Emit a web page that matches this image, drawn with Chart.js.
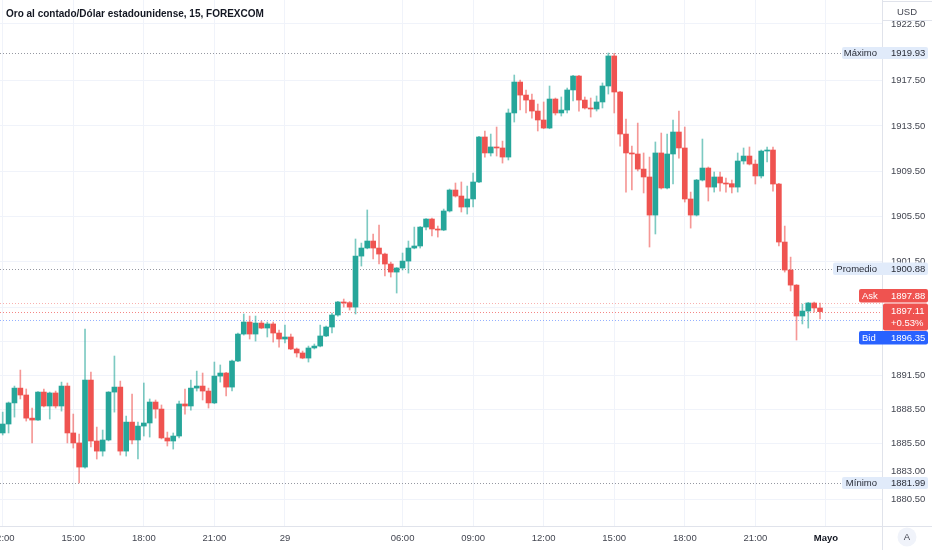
<!DOCTYPE html>
<html>
<head>
<meta charset="utf-8">
<script src="https://cdn.jsdelivr.net/npm/chart.js@4"></script>
<style>
html,body{margin:0;padding:0;background:#fff;}
#wrap{width:932px;height:550px;position:relative;}
</style>
</head>
<body>
<div id="wrap"><canvas id="chart" width="932" height="550"></canvas></div>
<script>
'use strict';
// XAU/USD, velas de 15 minutos
var opens = [
  1886.40,1887.19,1889.05,1890.36,1889.75,1887.71,1887.54,1890.01,1888.78,1889.93,
  1888.78,1890.54,1886.40,1885.52,1883.39,1891.07,1885.69,1884.80,1885.78,1890.01,
  1890.45,1884.80,1887.36,1885.78,1887.01,1887.28,1889.13,1888.51,1885.96,1885.69,
  1886.13,1888.96,1888.78,1890.36,1890.54,1890.10,1889.05,1891.42,1891.69,1890.45,
  1892.75,1895.13,1896.19,1895.13,1896.10,1895.66,1896.02,1895.22,1894.69,1894.87,
  1893.81,1893.46,1893.01,1893.90,1894.07,1894.96,1895.75,1896.81,1897.96,1897.90,
  1897.51,1902.01,1902.72,1903.34,1902.72,1902.19,1901.31,1900.60,1900.96,1901.57,
  1902.72,1902.90,1904.57,1905.28,1904.40,1904.31,1905.99,1907.84,1907.31,1906.34,
  1907.05,1908.55,1912.52,1911.11,1911.64,1911.55,1910.75,1914.64,1917.37,1916.22,
  1915.78,1914.81,1914.02,1913.31,1915.87,1914.64,1914.90,1916.67,1917.90,1915.78,
  1915.08,1914.99,1915.61,1917.02,1919.67,1916.49,1912.78,1911.11,1911.02,1909.69,
  1908.99,1905.63,1911.11,1908.02,1911.02,1912.96,1911.55,1907.05,1905.63,1908.72,
  1909.78,1908.10,1908.99,1908.46,1908.40,1908.10,1910.40,1910.84,1910.13,1909.08,
  1911.28,1911.37,1908.37,1903.25,1900.78,1899.45,1896.72,1897.16,1897.87,1897.43
];
var highs = [
  1888.24,1889.13,1890.54,1891.95,1890.28,1888.60,1890.05,1890.28,1890.01,1890.10,
  1890.89,1890.81,1888.07,1886.31,1895.57,1891.78,1886.92,1886.66,1890.05,1893.19,
  1890.98,1887.89,1889.84,1887.36,1890.81,1889.40,1889.31,1888.87,1886.48,1886.40,
  1889.22,1890.28,1891.07,1891.86,1891.69,1890.36,1892.66,1892.40,1891.75,1892.84,
  1895.22,1896.90,1896.72,1896.72,1896.28,1896.19,1896.19,1895.48,1895.92,1895.13,
  1893.90,1893.63,1894.07,1894.25,1895.92,1895.84,1896.98,1898.02,1898.22,1898.00,
  1903.52,1903.16,1906.08,1903.96,1904.75,1902.28,1901.48,1901.00,1902.28,1903.34,
  1904.57,1904.62,1905.33,1905.37,1904.66,1906.16,1907.93,1908.46,1908.55,1908.19,
  1909.34,1912.58,1913.05,1912.78,1913.40,1912.16,1914.99,1917.99,1917.55,1916.67,
  1916.31,1915.43,1915.61,1917.02,1915.96,1916.05,1916.84,1917.96,1917.96,1916.05,
  1915.96,1916.14,1917.29,1919.93,1919.90,1916.55,1914.11,1911.72,1913.75,1911.11,
  1910.75,1912.08,1912.87,1912.78,1914.02,1914.81,1913.40,1907.66,1908.78,1912.34,
  1909.87,1909.43,1909.43,1908.90,1908.72,1911.11,1911.55,1911.64,1910.49,1911.37,
  1911.64,1911.64,1908.42,1904.66,1901.92,1899.50,1897.78,1897.92,1897.96,1897.87
];
var lows = [
  1886.22,1886.40,1887.80,1889.40,1887.45,1885.52,1887.50,1888.69,1887.63,1888.60,
  1888.33,1885.52,1885.07,1881.99,1883.30,1885.16,1884.10,1884.36,1885.70,1888.24,
  1884.45,1884.36,1885.43,1884.10,1886.13,1886.04,1887.71,1885.87,1885.25,1884.98,
  1885.96,1888.07,1888.42,1890.10,1889.31,1888.60,1888.98,1890.89,1889.66,1890.10,
  1892.70,1895.04,1894.69,1894.51,1895.60,1894.87,1894.42,1893.98,1894.34,1893.75,
  1893.10,1892.95,1892.66,1893.81,1894.00,1894.90,1895.22,1896.70,1897.51,1897.25,
  1896.90,1901.13,1902.65,1901.75,1901.31,1900.25,1900.16,1898.75,1900.78,1900.51,
  1902.65,1902.72,1904.31,1903.78,1903.69,1904.25,1905.90,1907.22,1905.90,1905.72,
  1906.34,1908.50,1910.75,1910.84,1910.84,1910.22,1910.49,1913.84,1914.90,1914.64,
  1914.19,1913.05,1913.25,1913.25,1914.46,1914.37,1914.64,1915.70,1914.81,1914.99,
  1914.28,1914.81,1915.08,1916.31,1914.64,1911.72,1907.66,1907.84,1909.52,1907.58,
  1902.81,1903.96,1907.93,1907.93,1908.37,1910.66,1906.78,1904.48,1905.55,1908.64,
  1906.87,1907.66,1907.75,1907.66,1907.58,1907.66,1910.13,1910.05,1908.37,1908.90,
  1910.31,1907.75,1902.90,1900.60,1898.93,1894.60,1896.02,1895.66,1897.07,1896.46
];
var closes = [
  1887.19,1889.05,1890.36,1889.75,1887.71,1887.54,1890.01,1888.78,1889.93,1888.78,
  1890.54,1886.40,1885.52,1883.39,1891.07,1885.69,1884.80,1885.78,1890.01,1890.45,
  1884.80,1887.36,1885.78,1887.01,1887.28,1889.13,1888.51,1885.96,1885.69,1886.13,
  1888.96,1888.78,1890.36,1890.54,1890.10,1889.05,1891.42,1891.69,1890.45,1892.75,
  1895.13,1896.19,1895.13,1896.10,1895.66,1896.02,1895.22,1894.69,1894.87,1893.81,
  1893.46,1893.01,1893.90,1894.07,1894.96,1895.75,1896.81,1897.96,1897.87,1897.51,
  1902.01,1902.72,1903.34,1902.72,1902.19,1901.31,1900.60,1900.96,1901.57,1902.72,
  1902.90,1904.57,1905.28,1904.40,1904.31,1905.99,1907.84,1907.31,1906.34,1907.05,
  1908.55,1912.52,1911.11,1911.64,1911.55,1910.75,1914.64,1917.37,1916.22,1915.78,
  1914.81,1914.02,1913.31,1915.87,1914.64,1914.90,1916.67,1917.90,1915.78,1915.08,
  1914.99,1915.61,1917.02,1919.67,1916.49,1912.78,1911.11,1911.02,1909.69,1908.99,
  1905.63,1911.11,1908.02,1911.02,1912.96,1911.55,1907.05,1905.63,1908.72,1909.78,
  1908.10,1908.99,1908.46,1908.37,1908.10,1910.40,1910.84,1910.13,1909.08,1911.28,
  1911.37,1908.37,1903.25,1900.78,1899.45,1896.72,1897.16,1897.87,1897.43,1897.11
];

// escala de tiempo: índice de vela y texto
var timeIdx = [0, 12, 24, 36, 48, 68, 80, 92, 104, 116, 128, 140];
var timeLabels = ['12:00', '15:00', '18:00', '21:00', '29', '06:00', '09:00', '12:00', '15:00', '18:00', '21:00', 'Mayo'];
var boldLabels = ['Mayo'];
var yTicks = [1922.5, 1917.5, 1913.5, 1909.5, 1905.5, 1901.5, 1897.5, 1894.5, 1891.5, 1888.5, 1885.5, 1883.0, 1880.5];

var maxPrice = 1919.93, avgPrice = 1900.88, minPrice = 1881.99;
var askPrice = 1897.88, lastPrice = 1897.11, bidPrice = 1896.35;
var changePct = '+0.53%';
var title = 'Oro al contado/Dólar estadounidense, 15, FOREXCOM';

var UP = '#26a69a', DOWN = '#ef5350';
var UP_WICK = 'rgba(38,166,154,0.6)', DOWN_WICK = 'rgba(239,83,80,0.6)';
var FONT = '"Liberation Sans", Arial, sans-serif';
var AXIS_TEXT = '#434651';

var bodies = [], wicks = [], bodyColors = [], wickColors = [];
for (var i = 0; i < opens.length; i++) {
  bodies.push({x: i, y: [opens[i], closes[i]]});
  wicks.push({x: i, y: [lows[i], highs[i]]});
  var up = closes[i] >= opens[i];
  bodyColors.push(up ? UP : DOWN);
  wickColors.push(up ? UP_WICK : DOWN_WICK);
}

function dotted(ctx, y, x0, x1, color) {
  ctx.save();
  ctx.strokeStyle = color;
  ctx.lineWidth = 1;
  ctx.setLineDash([1, 2]);
  ctx.beginPath();
  ctx.moveTo(x0, Math.round(y) + 0.5);
  ctx.lineTo(x1, Math.round(y) + 0.5);
  ctx.stroke();
  ctx.restore();
}

function box(ctx, x, y, w, h, fill) {
  ctx.fillStyle = fill;
  ctx.beginPath();
  if (ctx.roundRect) ctx.roundRect(x, y, w, h, 2); else ctx.rect(x, y, w, h);
  ctx.fill();
}

function text(ctx, s, x, y, color, align, bold) {
  ctx.font = (bold ? 'bold ' : '') + '9.5px ' + FONT;
  ctx.fillStyle = color;
  ctx.textAlign = align || 'left';
  ctx.textBaseline = 'middle';
  ctx.fillText(s, x, y);
}

function noPadding(s) {
  s.paddingLeft = s.paddingRight = s.paddingTop = s.paddingBottom = 0;
}

var overlay = {
  id: 'overlay',
  beforeDatasetsDraw: function(chart) {
    var ctx = chart.ctx, y = chart.scales.y, a = chart.chartArea;
    dotted(ctx, y.getPixelForValue(maxPrice), a.left, 842, '#9598a1');
    dotted(ctx, y.getPixelForValue(avgPrice), a.left, 833, '#9598a1');
    dotted(ctx, y.getPixelForValue(minPrice), a.left, 842, '#9598a1');
    dotted(ctx, y.getPixelForValue(askPrice), a.left, a.right, 'rgba(239,83,80,0.45)');
    dotted(ctx, y.getPixelForValue(lastPrice), a.left, a.right, 'rgba(239,83,80,0.7)');
    dotted(ctx, y.getPixelForValue(bidPrice), a.left, a.right, 'rgba(41,98,255,0.5)');
  },
  afterDraw: function(chart) {
    var ctx = chart.ctx, ys = chart.scales.y, xs = chart.scales.x, a = chart.chartArea;
    var W = chart.width, H = chart.height;
    var lblFill = '#e1ebfa', lblText = '#2a2e39';
    ctx.save();

    // bordes de los ejes
    ctx.strokeStyle = '#e0e3eb';
    ctx.lineWidth = 1;
    ctx.beginPath();
    ctx.moveTo(a.right + 0.5, 0); ctx.lineTo(a.right + 0.5, H);
    ctx.moveTo(0, a.bottom + 0.5); ctx.lineTo(W, a.bottom + 0.5);
    ctx.stroke();

    // máximo / promedio / mínimo
    var yMax = ys.getPixelForValue(maxPrice);
    box(ctx, 842, yMax - 6, 86, 12, lblFill);
    text(ctx, 'Máximo', 877, yMax, lblText, 'right');
    text(ctx, maxPrice.toFixed(2), 891, yMax, lblText);
    var yAvg = ys.getPixelForValue(avgPrice);
    box(ctx, 833, yAvg - 6.5, 95, 12.5, lblFill);
    text(ctx, 'Promedio', 877, yAvg, lblText, 'right');
    text(ctx, avgPrice.toFixed(2), 891, yAvg, lblText);
    var yMin = ys.getPixelForValue(minPrice);
    box(ctx, 842, yMin - 6, 86, 12, lblFill);
    text(ctx, 'Mínimo', 877, yMin, lblText, 'right');
    text(ctx, minPrice.toFixed(2), 891, yMin, lblText);

    // ask / último / bid
    var yLast = ys.getPixelForValue(lastPrice);
    box(ctx, 859, yLast - 22.5, 69, 13.5, DOWN);
    text(ctx, 'Ask', 862, yLast - 15.5, '#fff');
    text(ctx, askPrice.toFixed(2), 891, yLast - 15.5, '#fff');
    box(ctx, 883, yLast - 8, 45, 27, DOWN);
    text(ctx, lastPrice.toFixed(2), 891, yLast - 0.5, '#fff');
    text(ctx, changePct, 891, yLast + 12, '#fff');
    box(ctx, 859, yLast + 19.5, 69, 13.5, '#2962ff');
    text(ctx, 'Bid', 862, yLast + 26.5, '#fff');
    text(ctx, bidPrice.toFixed(2), 891, yLast + 26.5, '#fff');

    // etiquetas de tiempo
    ctx.save();
    ctx.beginPath();
    ctx.rect(0, a.bottom, a.right, H - a.bottom);
    ctx.clip();
    for (var i = 0; i < timeIdx.length; i++) {
      var lb = timeLabels[i];
      var isBold = boldLabels.indexOf(lb) >= 0;
      text(ctx, lb, xs.getPixelForValue(timeIdx[i]), 538, isBold ? '#131722' : AXIS_TEXT, 'center', isBold);
    }
    ctx.restore();

    // USD
    ctx.fillStyle = '#fff';
    ctx.fillRect(a.right + 1, 0, W - a.right - 1, 20);
    ctx.strokeStyle = '#e0e3eb';
    ctx.beginPath();
    ctx.moveTo(a.right, 20.5); ctx.lineTo(W, 20.5);
    ctx.moveTo(a.right, 1.5); ctx.lineTo(W, 1.5);
    ctx.stroke();
    text(ctx, 'USD', 907, 12, AXIS_TEXT, 'center');

    // botón A
    ctx.fillStyle = '#f0f3fa';
    ctx.beginPath();
    ctx.arc(907, 537, 9.5, 0, Math.PI * 2);
    ctx.fill();
    text(ctx, 'A', 907, 537.5, AXIS_TEXT, 'center');

    // título
    ctx.font = 'bold 10px ' + FONT;
    ctx.fillStyle = '#131722';
    ctx.textAlign = 'left';
    ctx.textBaseline = 'middle';
    ctx.fillText(title, 6, 14);
    ctx.restore();
  }
};

new Chart(document.getElementById('chart'), {
  type: 'bar',
  data: {
    datasets: [{
      label: 'cuerpo',
      data: bodies,
      backgroundColor: bodyColors,
      borderWidth: 0,
      barThickness: 5,
      minBarLength: 1,
      grouped: false
    }, {
      label: 'mecha',
      data: wicks,
      backgroundColor: wickColors,
      borderWidth: 0,
      barThickness: 1,
      minBarLength: 1,
      grouped: false
    }]
  },
  options: {
    responsive: false,
    animation: false,
    layout: {padding: 0},
    plugins: {legend: {display: false}, tooltip: {enabled: false}},
    scales: {
      x: {
        type: 'linear',
        offset: false,
        min: -0.46,
        max: 149.54,
        afterBuildTicks: function(s) { s.ticks = timeIdx.map(function(v) { return {value: v}; }); },
        afterFit: function(s) { s.height = 24; noPadding(s); },
        ticks: {display: false},
        grid: {color: '#f0f3fa', drawTicks: false, offset: false},
        border: {display: false}
      },
      y: {
        position: 'right',
        min: 1878.19,
        max: 1924.61,
        afterBuildTicks: function(s) { s.ticks = yTicks.map(function(v) { return {value: v}; }); },
        afterFit: function(s) { s.width = 50; noPadding(s); },
        ticks: {
          padding: 9,
          color: AXIS_TEXT,
          autoSkip: false,
          font: {family: FONT, size: 9.5},
          callback: function(v) { return v.toFixed(2); }
        },
        grid: {color: '#f0f3fa', drawTicks: false},
        border: {display: false}
      }
    }
  },
  plugins: [overlay]
});
</script>
</body>
</html>
